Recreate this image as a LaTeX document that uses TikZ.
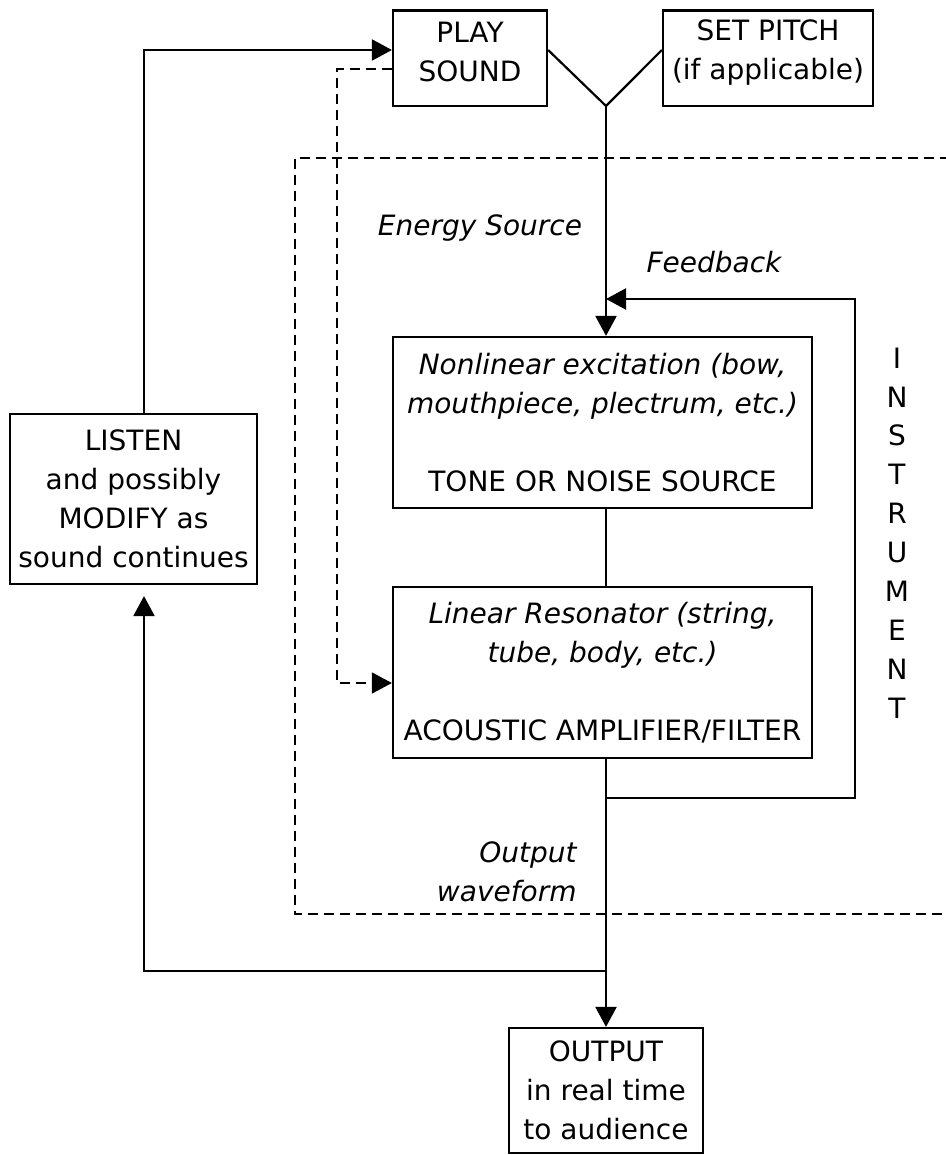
\documentclass[tikz,border=0pt]{standalone}
\usepackage{fontspec}
\setmainfont{DejaVu Sans}
\usetikzlibrary{arrows.meta,calc}
\newcommand\fsz{\fontsize{14pt}{19.5pt}\selectfont}
\begin{document}
\begin{tikzpicture}[x=0.5pt,y=-0.5pt,
  box/.style={draw,line width=1.1pt,inner sep=0pt,align=center,font=\fsz},
  inlbl/.style={label={[align=center,font=\fsz,inner sep=0pt,yshift=2.9pt]center:{#1}}},
  conn/.style={line width=1.1pt},
  tip/.style={-{Triangle[length=10pt,width=10.5pt]}},
  arr/.style={conn,tip},
  dsh/.style={line width=0.6pt,dash pattern=on 5pt off 3pt},
  lbl/.style={font=\fsz\itshape,inner sep=0pt}]
\useasboundingbox (0,0) rectangle (946,1155);

% instrument frame
\draw[dsh] (950,158) -- (295,158) -- (295,914) -- (950,914);

% boxes
\node[box,minimum width=77pt,minimum height=47.75pt,inlbl={PLAY\\SOUND}] (play) at (470,58.25) {};
\node[box,minimum width=105pt,minimum height=47.75pt,inlbl={SET PITCH\\(if applicable)}] (pitch) at (768,58.25) {};
\node[box,minimum width=123.5pt,minimum height=85pt] (listen) at (133.5,499) {LISTEN\\and possibly\\MODIFY as\\sound continues};
\node[box,minimum width=209.5pt,minimum height=85.5pt] (nonlin) at (602.5,422.5)
  {\itshape Nonlinear excitation (bow,\\ \itshape mouthpiece, plectrum, etc.)\\[19.5pt] \upshape TONE OR NOISE SOURCE};
\node[box,minimum width=209.5pt,minimum height=85.5pt] (linres) at (602.5,672.5)
  {\itshape Linear Resonator (string,\\ \itshape tube, body, etc.)\\[19.5pt] \upshape ACOUSTIC AMPLIFIER/FILTER};
\node[box,minimum width=97pt,minimum height=62.5pt] (out) at (606,1090.5) {OUTPUT\\in real time\\to audience};

% labels
\node[lbl,anchor=base] (es) at (480,235) {Energy Source};
\node[lbl,anchor=base] (fb) at (714,272) {Feedback};
\node[lbl,anchor=east,align=right] (ow) at (577,871.5) {\itshape Output\\ \itshape waveform};
\node[inner sep=0pt,align=center,font={\fontsize{14pt}{19.45pt}\selectfont}] (inst) at (897,533)
  {I\\N\\S\\T\\R\\U\\M\\E\\N\\T};

% helper coordinates
\coordinate (yv) at (606,106);
\coordinate (lx) at (144,50);
\coordinate (fbl) at (606,798);
\coordinate (fbr) at (855,798);
\coordinate (fbt) at (855,299);
\coordinate (fbtip) at (606,299);
\coordinate (bl) at (144,971);
\coordinate (br) at (606,971);
\coordinate (dc) at (337,69);
\coordinate (dd) at (337,683);

% connectors
\draw[conn] (play.east |- lx) -- (yv) -- (pitch.west |- lx);
\draw[arr] (yv) -- (yv |- nonlin.north);
\draw[line width=0.6pt] (nonlin.south -| yv) -- (linres.north -| yv);
\draw[arr] (linres.south -| yv) -- (out.north);
\draw[arr] (fbl) -- (fbr) -- (fbt) -- (fbtip);
\draw[arr] (listen.north -| lx) -- (lx) -- (play.west |- lx);
\draw[arr,shorten >=5.5pt] (br) -- (bl) -- (listen.south -| bl);
\draw[dsh,tip] (play.west |- dc) -- (dc) -- (dd) -- (linres.west |- dd);
\end{tikzpicture}
\end{document}
